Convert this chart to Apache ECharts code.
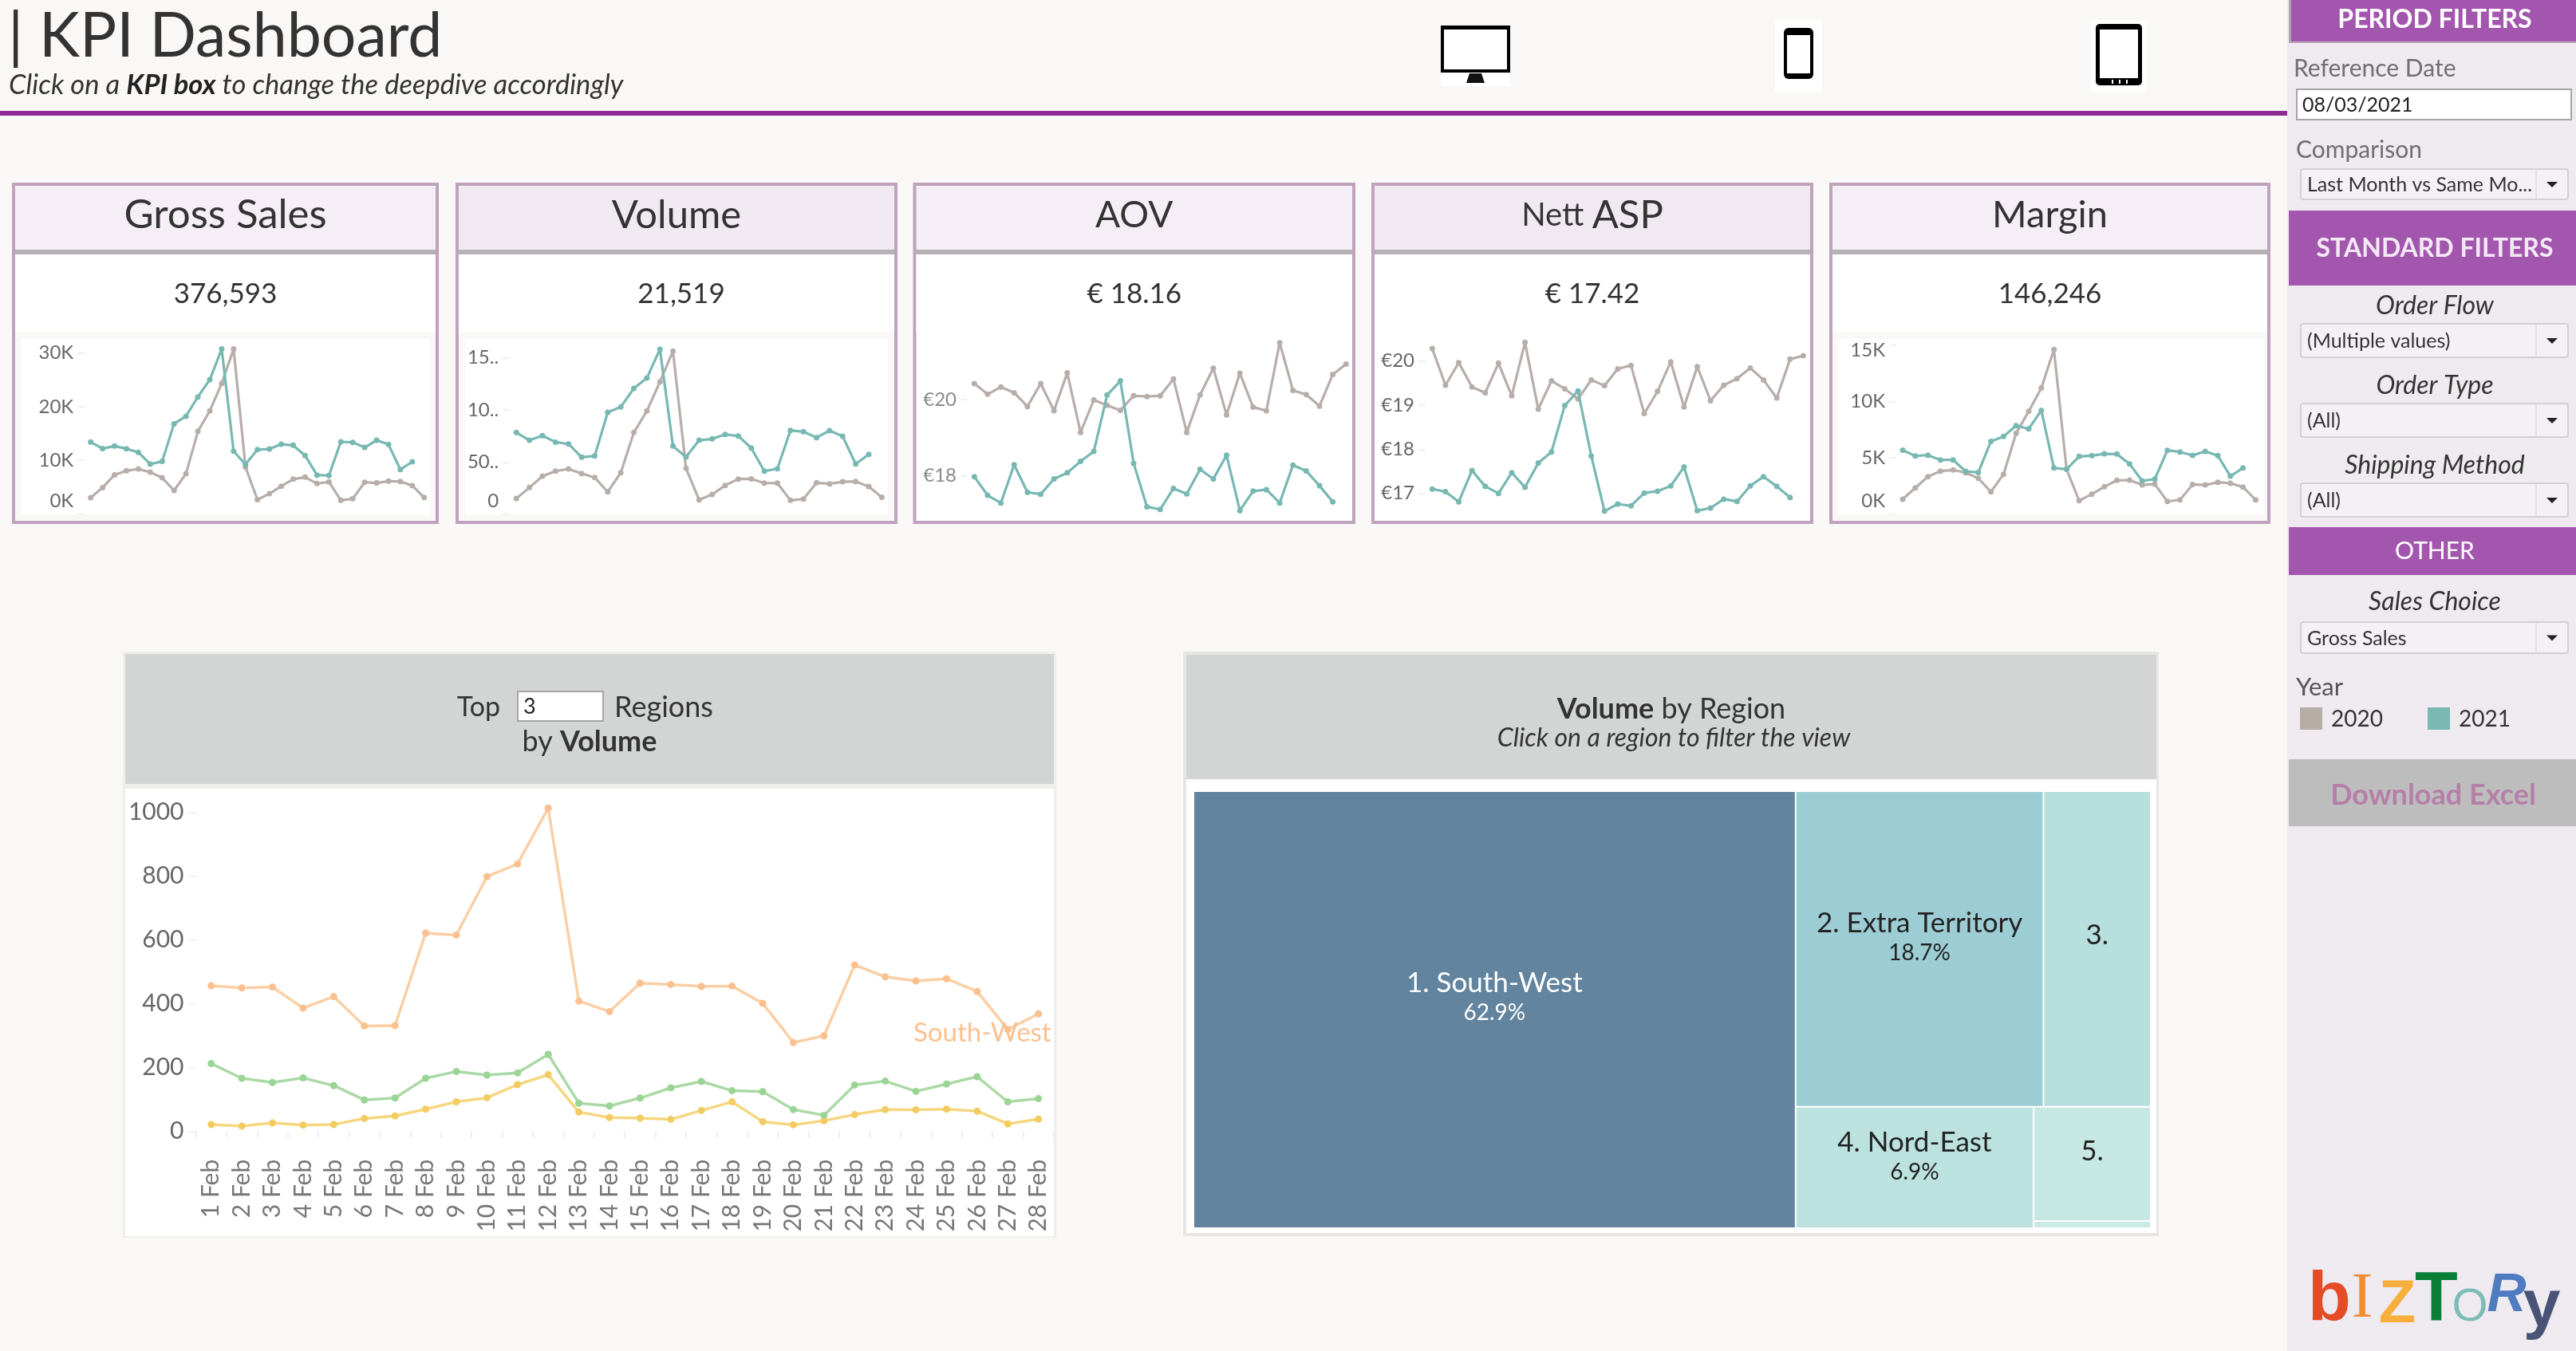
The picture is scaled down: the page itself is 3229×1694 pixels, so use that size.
<!DOCTYPE html>
<html><head><meta charset="utf-8"><title>KPI Dashboard</title>
<style>html,body{margin:0;padding:0;background:#faf8f6;overflow:hidden}#c{width:3229px;height:1694px}</style>
<script src="https://cdn.jsdelivr.net/npm/echarts@6/dist/echarts.min.js"></script></head>
<body><div id="c"></div>
<script>
// ---------- categories ----------
const days2021 = ['1 Feb','2 Feb','3 Feb','4 Feb','5 Feb','6 Feb','7 Feb','8 Feb','9 Feb','10 Feb','11 Feb','12 Feb','13 Feb','14 Feb','15 Feb','16 Feb','17 Feb','18 Feb','19 Feb','20 Feb','21 Feb','22 Feb','23 Feb','24 Feb','25 Feb','26 Feb','27 Feb','28 Feb'];
const days2020 = days2021.concat(['29 Feb']);

// ---------- KPI sparklines (2020 has 29 days, 2021 has 28) ----------
const sales2021 = [13400,12200,12650,12160,11500,9300,9800,16800,18200,21800,25000,30700,11700,9250,12000,12100,13000,12800,10900,7270,7200,13450,13350,12400,13740,12950,8300,9740];
const sales2020 = [3060,4940,7300,8060,8400,7800,6770,4400,7500,15400,19200,24300,30700,8750,2700,3800,5200,6500,6870,5700,6000,2570,2870,5930,5800,6130,6080,5300,3100];
const volume2021 = [783,709,753,691,673,546,559,977,1028,1207,1306,1582,653,548,709,722,765,750,635,413,436,804,791,735,801,747,482,574];
const volume2020 = [151,255,365,413,434,390,352,214,398,783,990,1270,1564,439,138,189,276,337,339,298,298,133,145,301,291,311,314,265,163];
const aov2021 = [17.98,17.49,17.29,18.29,17.57,17.52,17.92,18.08,18.38,18.64,20.12,20.49,18.33,17.19,17.12,17.67,17.53,18.17,17.92,18.54,17.09,17.60,17.64,17.29,18.28,18.13,17.74,17.32];
const aov2020 = [20.42,20.14,20.33,20.18,19.82,20.42,19.71,20.70,19.14,19.99,19.85,19.72,20.10,20.08,20.10,20.54,19.14,20.12,20.82,19.60,20.69,19.80,19.71,21.49,20.24,20.13,19.83,20.66,20.93];
const asp2021 = [17.10,17.04,16.81,17.52,17.16,17.00,17.47,17.14,17.69,17.94,18.99,19.32,17.85,16.60,16.76,16.72,17.01,17.05,17.17,17.60,16.61,16.67,16.87,16.82,17.17,17.38,17.16,16.91];
const asp2020 = [20.28,19.45,19.96,19.41,19.28,19.95,19.21,20.42,18.91,19.55,19.37,19.14,19.57,19.44,19.82,19.90,18.81,19.31,19.98,18.96,19.87,19.10,19.45,19.60,19.84,19.57,19.16,20.04,20.12];
const margin2021 = [5680,5170,5240,4810,4810,3800,3700,6460,6890,7850,7570,9200,4100,3990,5120,5190,5350,5330,4460,2950,3110,5660,5520,5210,5570,5190,3370,4100];
const margin2020 = [1320,2330,3330,3820,3920,3680,3180,1980,3540,7170,9130,11200,14600,3990,1200,1770,2430,3000,3020,2590,2670,1130,1270,2640,2590,2830,2740,2410,1270];

// ---------- tick labels ----------
const salesTicks = [0,10000,20000,30000];       const salesTickLabels = ['0K','10K','20K','30K'];
const volumeTicks = [0,500,1000,1500];          const volumeTickLabels = ['0','50..','10..','15..'];
const aovTicks = [18,20];                       const aovTickLabels = ['€18','€20'];
const aspTicks = [17,18,19,20];                 const aspTickLabels = ['€17','€18','€19','€20'];
const marginTicks = [0,5000,10000,15000];       const marginTickLabels = ['0K','5K','10K','15K'];

// ---------- KPI text ----------
const kpiValues = ['376,593','21,519','€ 18.16','€ 17.42','146,246'];

// ---------- Top regions ----------
const southWest = [457,450,453,387,423,331,332,622,616,799,839,1014,409,376,465,461,455,456,402,279,300,522,485,472,479,439,320,369];
const secondRegion = [213,167,154,168,144,99,105,167,188,177,184,242,89,80,105,137,157,128,125,69,51,146,158,126,149,172,93,103];
const thirdRegion = [22,17,27,20,22,41,49,70,93,106,147,178,61,44,42,38,66,93,31,21,34,53,69,68,70,64,24,39];
const topTicks = [0,200,400,600,800,1000];

// ---------- Treemap ----------
const regionNames = ['1. South-West','2. Extra Territory','3.','4. Nord-East','5.',''];
const regionShares = [62.9,18.7,8.1,6.9,3.2,0.2];
const regionPctLabels = ['62.9%','18.7%','','6.9%','',''];

// ---------- Sidebar ----------
const legendYears = ['2020','2021'];

// ---------- Style ----------
const FF = 'Lato';
const C_2021 = '#78b8b2', C_2020 = '#b7aeaa';
const regionColors = ['#62849f','#9dcdd4','#b7dfdd','#bbe2de','#c7e8e2','#c9e9e3'];
const regionLabelShift = [216,141,156,20,31,0];

const g = [];
const rect = (x,y,w,h,fill,extra) => g.push(Object.assign({type:'rect',silent:true,shape:{x,y,width:w,height:h},style:{fill}},extra||{}));
const text = (x,y,t,font,fill,align,extra) => g.push({type:'text',silent:true,x,y,style:Object.assign({text:t,font:font,fill:fill||'#333',textAlign:align||'left',textVerticalAlign:'middle'},extra||{})});

// header
rect(0,139,2867,6,'#8e2a94');
text(10,46,'| KPI Dashboard',`400 77px ${FF}`,'#333');
text(11,107,'{a|Click on a }{b|KPI box}{a| to change the deepdive accordingly}',`italic 34px ${FF}`,'#333','left',{
  rich:{a:{font:`italic 34.5px ${FF}`,fill:'#333'},b:{font:`italic 700 34.5px ${FF}`,fill:'#222'}}});

// device icons
rect(1806,32,87,76,'#fff');
rect(1806,32,87,59,'#000'); rect(1810,37,79,50,'#fff');
g.push({type:'polygon',silent:true,shape:{points:[[1842,92],[1857,92],[1861,104],[1838,104]]},style:{fill:'#111'}});
rect(2225,25,59,90,'#fff');
rect(2236,35,37,64,'#000',{shape:{x:2236,y:35,width:37,height:64,r:6}}); rect(2240,44,29,48,'#fff');
rect(2621,25,70,90,'#fff');
rect(2627,30,58,77,'#000',{shape:{x:2627,y:30,width:58,height:77,r:5}}); rect(2632,37,48,61,'#fff');
[2647,2656,2665].forEach(x=>rect(x,100,2,5,'#fff'));

// sidebar
rect(2867,0,362,1694,'#efe9f0');
rect(2869,0,360,53,'#a356ae'); rect(2869,0,3,53,'#a8a8a8'); rect(2869,52,360,2,'#b9a9bb');
text(3052,25,'PERIOD FILTERS',`700 32px ${FF}`,'#fff','center');
text(2875,86,'Reference Date',`400 30px ${FF}`,'#6f6f6f');
rect(2879,112,344,38,'#fff',{style:{fill:'#fff',stroke:'#a5a5a5',lineWidth:2}});
text(2886,132,'08/03/2021',`400 25px ${FF}`,'#222');
text(2878,188,'Comparison',`400 30px ${FF}`,'#6f6f6f');
const dropdown = (y,h,label) => {
  g.push({type:'rect',silent:true,shape:{x:2884,y,width:335,height:h,r:3},style:{fill:'#f5f0f6',stroke:'#d3d0d3',lineWidth:2}});
  rect(3178,y+1,2,h-2,'#e4e1e4');
  text(2892,y+h/2+1,label,`400 25px ${FF}`,'#333');
  g.push({type:'polygon',silent:true,shape:{points:[[3192,y+h/2-3],[3206,y+h/2-3],[3199,y+h/2+4]]},style:{fill:'#222'}});
};
dropdown(212,38,'Last Month vs Same Mo...');
rect(2869,264,360,94,'#a356ae');
text(3052,312,'STANDARD FILTERS',`700 32px ${FF}`,'#f3e9f4','center');
text(3052,384,'Order Flow',`italic 400 32px ${FF}`,'#333','center');
dropdown(406,42,'(Multiple values)');
text(3052,484,'Order Type',`italic 400 32px ${FF}`,'#333','center');
dropdown(506,42,'(All)');
text(3052,584,'Shipping Method',`italic 400 32px ${FF}`,'#333','center');
dropdown(606,42,'(All)');
rect(2869,661,360,60,'#a356ae');
text(3052,691,'OTHER',`400 30px ${FF}`,'#fff','center');
text(3052,755,'Sales Choice',`italic 400 32px ${FF}`,'#333','center');
dropdown(780,39,'Gross Sales');
text(2878,862,'Year',`400 31px ${FF}`,'#555');
rect(2883,887,28,28,'#b6ada6'); text(2922,902,legendYears[0],`400 28px ${FF}`,'#333');
rect(3043,887,28,28,'#7cb8b2'); text(3082,902,legendYears[1],`400 28px ${FF}`,'#333');
rect(2869,952,360,84,'#bdbdbd');
text(3050,997,'Download Excel',`700 36px ${FF}`,'#b57fa8','center');

// logo letters
const logo = [['b',2920,'#e54b25','700 88px "Liberation Sans"',1631],['I',2961,'#f18d33','400 80px "Liberation Serif"',1630],['Z',3005,'#f7ae3c','700 76px "Liberation Sans"',1637],['T',3054,'#0a7d38','700 88px "Liberation Sans"',1631],['O',3096,'#7cbcb6','400 58px "Liberation Sans"',1640],['R',3142,'#4f7cc0','italic 700 68px "Liberation Sans"',1625],['y',3186,'#485377','700 84px "Liberation Sans"',1640]];
logo.forEach(l=>text(l[1],l[4],l[0],l[3],l[2],'center'));

// KPI cards
const cards = [
 {x:15,w:535,title:'Gross Sales',size:51,dx:0,hdr:'#f5eef6',pane:[27,539]},
 {x:571,w:554,title:'Volume',size:49,dx:6,hdr:'#f1e9f2',pane:[583,1113]},
 {x:1144.5,w:554.5,title:'AOV',size:46,dx:0,hdr:'#f5eef6',pane:null},
 {x:1719,w:554,title:'',size:49,dx:0,hdr:'#f1e9f2',pane:null},
 {x:2293,w:553,title:'Margin',size:47,dx:0,hdr:'#f5eef6',pane:[2305,2838]}
];
cards.forEach((c,i)=>{
  rect(c.x,229,c.w,428,'#bfa3bd');
  rect(c.x+4,233,c.w-8,80,c.hdr);
  rect(c.x+4,313,c.w-8,6,'#b3b3b3');
  rect(c.x+4,319,c.w-8,334,c.pane?'#faf8f6':'#fff');
  rect(c.x+4,319,c.w-8,98,'#fff');
  if(c.pane) rect(c.pane[0],425,c.pane[1]-c.pane[0],220,'#fff');
  const cx = c.x+c.w/2;
  if(i===3){
    text(cx,270,'{a|Nett }{b|ASP}',`400 49px ${FF}`,'#333','center',{rich:{a:{font:`400 40px ${FF}`,fill:'#333'},b:{font:`400 49px ${FF}`,fill:'#333'}}});
  } else text(cx,270,c.title,`400 ${c.size}px ${FF}`,'#333','center');
  text(cx+c.dx,369,kpiValues[i],`400 35px ${FF}`,'#333','center');
});

// Top regions panel
rect(154,817,1170,735,'#eeeeec');
rect(157,820,1164,163,'#d3d5d4');
rect(157,989,1164,561,'#fff');
text(600,887,'Top',`400 34px ${FF}`,'#333','center');
rect(649,867,107,37,'#fff',{style:{fill:'#fff',stroke:'#a5a5a5',lineWidth:2}});
text(656,886,'3',`400 27px ${FF}`,'#222');
text(832,887,'Regions',`400 36px ${FF}`,'#333','center');
text(739,930,'{a|by }{b|Volume}',`400 36px ${FF}`,'#333','center',{rich:{a:{font:`400 36px ${FF}`,fill:'#333'},b:{font:`700 36px ${FF}`,fill:'#333'}}});

// Treemap panel
rect(1483,817,1223,733,'#e6e6e6');
rect(1487,821,1216,156,'#d3d5d4');
rect(1487,977,1216,569,'#fff');
text(2095,889,'{b|Volume}{a| by Region}',`400 36px ${FF}`,'#333','center',{rich:{a:{font:`400 36px ${FF}`,fill:'#333'},b:{font:`700 36px ${FF}`,fill:'#333'}}});
text(2098,926,'Click on a region to filter the view',`italic 400 32px ${FF}`,'#333','center');

// ---------- charts ----------
const grids=[], xs=[], ys=[], series=[];
function spark(gridBox, cur, prev, tickVals, tickLabels, ext, labelColor, dropTopLabel){
  const idx=grids.length;
  grids.push({left:gridBox.left,top:gridBox.top,width:gridBox.width,height:gridBox.height,containLabel:false});
  xs.push({type:'category',gridIndex:idx,data:days2020,show:false,boundaryGap:true});
  ys.push({type:'value',gridIndex:idx,min:ext[0],max:ext[1],splitLine:{show:false},axisLine:{show:false},
    axisTick:{show:true,length:9,customValues:tickVals,lineStyle:{color:'#f0f0f0',width:2}},
    axisLabel:{show:true,customValues:tickVals,margin:14,verticalAlignMinLabel:ext[0]===0?'bottom':null,lineHeight:32,
      color:labelColor,fontFamily:FF,fontSize:24,
      rich:{drop:{padding:[14,0,0,0],color:labelColor,fontFamily:FF,fontSize:24}},
      formatter:v=>{const t=tickLabels[tickVals.indexOf(v)]||''; return dropTopLabel&&v===tickVals[tickVals.length-1]?`{drop|${t}}`:t;}}});
  const s=(d,c,z)=>({type:'line',xAxisIndex:idx,yAxisIndex:idx,data:d,symbol:'circle',symbolSize:7,z,clip:false,silent:true,
    lineStyle:{color:c,width:3.2},itemStyle:{color:c},animation:false});
  series.push(s(prev,C_2020,3),s(cur,C_2021,4));
}
spark({left:106.2,top:435.6,width:433,height:209.1},sales2021,sales2020,salesTicks,salesTickLabels,[0,31000],'#666');
spark({left:639.1,top:435.6,width:474.4,height:209.1},volume2021,volume2020,volumeTicks,volumeTickLabels,[0,1600],'#666');
spark({left:1213,top:424.5,width:482.6,height:220},aov2021,aov2020,aovTicks,aovTickLabels,[17,21.6],'#8a8a8a');
spark({left:1787,top:424.9,width:481.7,height:221.5},asp2021,asp2020,aspTicks,aspTickLabels,[16.5,20.5],'#666');
spark({left:2377.1,top:432.7,width:458.2,height:212},margin2021,margin2020,marginTicks,marginTickLabels,[0,15000],'#666',true);

// main line chart
const mi=grids.length;
grids.push({left:245.5,top:998.8,width:1075.4,height:440});
xs.push({type:'category',gridIndex:mi,data:days2021,boundaryGap:true,axisLine:{show:false},
  axisTick:{show:true,length:8,lineStyle:{color:'#eeeeee',width:2}},
  axisLabel:{interval:0,rotate:90,margin:15,color:'#777',fontFamily:FF,fontSize:30,hideOverlap:false}});
ys.push({type:'value',gridIndex:mi,min:-50,max:1050,splitLine:{show:false},axisLine:{show:false},
  axisTick:{show:true,length:9,customValues:topTicks,lineStyle:{color:'#f0f0f0',width:2}},
  axisLabel:{customValues:topTicks,margin:15,color:'#666',fontFamily:FF,fontSize:30,formatter:v=>String(v)}});
const mainLine=(d,line,dot,extra)=>Object.assign({type:'line',xAxisIndex:mi,yAxisIndex:mi,data:d,symbol:'circle',symbolSize:9,silent:true,animation:false,
  lineStyle:{color:line,width:3.5},itemStyle:{color:dot}},extra||{});
series.push(mainLine(thirdRegion,'#f6d67e','#f2cc62'));
series.push(mainLine(secondRegion,'#abd9a5','#9ad595'));
series.push(mainLine(southWest,'#fbcfa5','#fbc08f',{endLabel:{show:true,formatter:'South-West',color:'#fbc08f',fontFamily:FF,fontSize:33,align:'right',offset:[8,24]}}));

// treemap (rows and columns nested as they are arranged in the view)
const leaf=i=>({name:regionNames[i],value:regionShares[i],pct:regionPctLabels[i],itemStyle:{color:regionColors[i]},
  label:{offset:[0,regionLabelShift[i]],rich:{t:{fontFamily:FF,fontSize:35,lineHeight:38,color:i===0?'#fff':'#222'},p:{fontFamily:FF,fontSize:28,lineHeight:36,color:i===0?'#fff':'#222'}}}});
const tree=[leaf(0),{name:'rest',children:[
  {name:'top',children:[leaf(1),leaf(2)]},
  {name:'bottom',children:[leaf(3),{name:'small',children:[leaf(4),leaf(5)]}]}
]}];
series.push({type:'treemap',left:1497,top:993,width:1198,height:546,roam:false,nodeClick:false,silent:true,animation:false,
  breadcrumb:{show:false},visibleMin:0,squareRatio:1.618,
  itemStyle:{gapWidth:2,borderWidth:0,borderColor:'#fff'},
  levels:[{itemStyle:{gapWidth:2}},{itemStyle:{gapWidth:2}},{itemStyle:{gapWidth:2}},{itemStyle:{gapWidth:2}},{itemStyle:{gapWidth:2}}],
  upperLabel:{show:false},
  label:{show:true,position:'inside',align:'center',verticalAlign:'middle',
    formatter:p=>p.data.pct?`{t|${p.name}}\n{p|${p.data.pct}}`:`{t|${p.name}}`},
  data:tree});

const chart=echarts.init(document.getElementById('c'),null,{renderer:'canvas'});
chart.setOption({animation:false,backgroundColor:'#faf8f6',tooltip:{show:false},
  grid:grids,xAxis:xs,yAxis:ys,series:series,graphic:{elements:g}});
</script></body></html>
